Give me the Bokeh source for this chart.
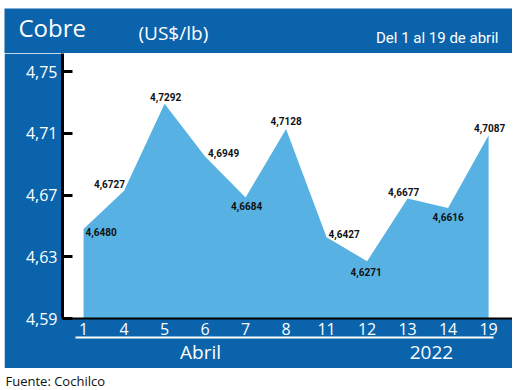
from bokeh.plotting import figure
from bokeh.models import (Range1d, FixedTicker, LinearAxis, Label,
                          ColumnDataSource, CDSView, IndexFilter)
from bokeh.layouts import column
from bokeh.embed import file_html
from bokeh.resources import INLINE
from bokeh.core.properties import value

# ---- data ----
days = ["1", "4", "5", "6", "7", "8", "11", "12", "13", "14", "19"]
prices = [4.6480, 4.6727, 4.7292, 4.6949, 4.6684, 4.7128, 4.6427, 4.6271, 4.6677, 4.6616, 4.7087]
price_labels = ["4,6480", "4,6727", "4,7292", "4,6949", "4,6684", "4,7128",
                "4,6427", "4,6271", "4,6677", "4,6616", "4,7087"]
y_ticks = [4.59, 4.63, 4.67, 4.71, 4.75]
y_tick_labels = ["4,59", "4,63", "4,67", "4,71", "4,75"]
group_labels = ["Abril", "2022"]
title_text = "Cobre"
unit_text = "(US$/lb)"
period_text = "Del 1 al 19 de abril"
source_text = "Fuente: Cochilco"

# ---- styles / placement ----
BLUE = "#0b63ab"
AREA = "#57b2e3"
label_align = ["left", "right", "center", "left", "center", "center",
               "left", "center", "center", "center", "center"]
label_dx = [2, 1, 1, 3, 1, 0, 2, -1, -4, 0, 1]
label_dy = [3, -7, -7, -4, 9, -8, -3, 11, -7, 9, -7]
group_pos = [2.89, 8.59]
group_bounds = (-0.2, 10.12)

xpos = list(range(len(days)))
src = ColumnDataSource(dict(x=xpos, price=prices, lab=price_labels,
                            base=[y_ticks[0]] * len(days),
                            dx=label_dx, dy=label_dy))

def bare(fig):
    fig.axis.visible = False
    fig.grid.visible = False
    fig.outline_line_color = None

# ---- header band ----
h = figure(width=508, height=45, x_range=Range1d(0, 1), y_range=Range1d(0, 1),
           output_backend="svg", toolbar_location=None, frame_align=False,
           min_border_left=0, min_border_right=0, min_border_top=0, min_border_bottom=0,
           margin=(8, 0, 0, 4))
bare(h)
h.border_fill_color = BLUE
h.background_fill_color = BLUE
h.add_layout(Label(x=14, y=26, x_units="screen", y_units="screen", text=title_text,
                   text_color="white", text_font="Open Sans", text_font_size="24px",
                   text_baseline="alphabetic"))
h.add_layout(Label(x=134, y=21, x_units="screen", y_units="screen", text=unit_text,
                   text_color="white", text_font="Open Sans", text_font_size="19px",
                   text_baseline="alphabetic"))
h.add_layout(Label(x=494, y=16, x_units="screen", y_units="screen", text=period_text,
                   text_color="white", text_font="Roboto", text_font_size="15px",
                   text_align="right", text_baseline="alphabetic"))

# ---- main chart ----
p = figure(width=508, height=315,
           x_range=Range1d(-0.52, 10.59),
           y_range=Range1d(4.59, 4.7617),
           output_backend="svg", toolbar_location=None, frame_align=False,
           min_border_left=58, min_border_right=0, min_border_top=0, min_border_bottom=50,
           margin=(0, 0, 0, 4))
p.border_fill_color = BLUE
p.background_fill_color = "white"
p.outline_line_color = None
p.grid.visible = False

p.varea(x="x", y1="base", y2="price", source=src, fill_color=AREA, fill_alpha=1)

for al in ["left", "center", "right"]:
    idx = [i for i, a in enumerate(label_align) if a == al]
    p.text(x="x", y="price", text="lab", source=src, view=CDSView(filter=IndexFilter(idx)),
           x_offset="dx", y_offset="dy", text_align=al, text_baseline="middle",
           text_font=value("Roboto"), text_font_style="bold",
           text_font_size="10px", text_color="#111111")

# y axis
ya = p.yaxis[0]
ya.ticker = FixedTicker(ticks=y_ticks)
ya.major_label_overrides = {t: l for t, l in zip(y_ticks, y_tick_labels)}
ya.major_label_text_color = "white"
ya.major_label_text_font = "Open Sans"
ya.major_label_text_font_size = "16px"
ya.major_label_standoff = 5
ya.axis_line_color = "black"
ya.axis_line_width = 3
ya.major_tick_line_color = "black"
ya.major_tick_line_width = 3
ya.major_tick_in = 10
ya.major_tick_out = 0
ya.minor_tick_line_color = None

# x axis
xa = p.xaxis[0]
xa.ticker = FixedTicker(ticks=xpos)
xa.major_label_overrides = {i: d for i, d in zip(xpos, days)}
xa.major_label_text_color = "white"
xa.major_label_text_font = "Open Sans"
xa.major_label_text_font_size = "16px"
xa.major_label_standoff = 4
xa.axis_line_color = "black"
xa.axis_line_width = 2
xa.major_tick_in = 0
xa.major_tick_out = 0
xa.major_tick_line_color = None
xa.minor_tick_line_color = None

# group axis (Abril / 2022) with white underline
ga = LinearAxis(ticker=FixedTicker(ticks=group_pos))
ga.major_label_overrides = {t: l for t, l in zip(group_pos, group_labels)}
ga.major_label_text_color = "white"
ga.major_label_text_font = "Open Sans"
ga.major_label_text_font_size = "19px"
ga.major_label_standoff = 1
ga.axis_line_color = "white"
ga.axis_line_width = 2
ga.bounds = group_bounds
ga.major_tick_in = 0
ga.major_tick_out = 0
ga.major_tick_line_color = None
ga.minor_tick_line_color = None
p.add_layout(ga, "below")

# ---- footer ----
f = figure(width=520, height=22, x_range=Range1d(0, 1), y_range=Range1d(0, 1),
           output_backend="svg", toolbar_location=None, frame_align=False,
           min_border_left=0, min_border_right=0, min_border_top=0, min_border_bottom=0)
bare(f)
f.border_fill_color = "white"
f.background_fill_color = "white"
f.add_layout(Label(x=5, y=10, x_units="screen", y_units="screen", text=source_text,
                   text_color="#111111", text_font="Open Sans", text_font_size="13px",
                   text_baseline="alphabetic"))

layout = column(h, p, f, spacing=0)
open("out.html", "w").write(file_html(layout, INLINE))
